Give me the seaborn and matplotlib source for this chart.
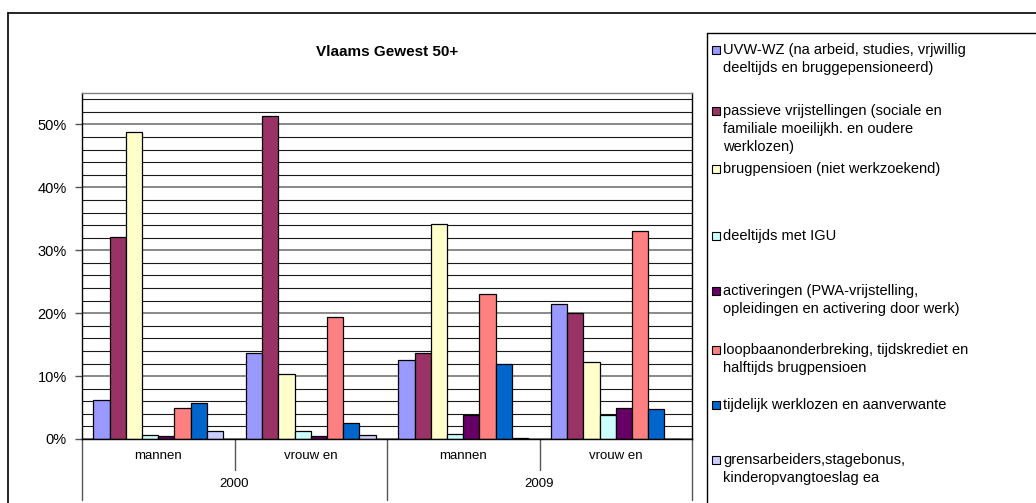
import numpy as np
import pandas as pd
import matplotlib
matplotlib.use("Agg")
import matplotlib.pyplot as plt
import matplotlib.transforms as mtransforms
from matplotlib.lines import Line2D
from matplotlib.patches import Rectangle
import seaborn as sns

# --- data (percent of 50+ group) ---
groups = ["2000 mannen", "2000 vrouwen", "2009 mannen", "2009 vrouwen"]
group_labels = ["mannen", "vrouw en", "mannen", "vrouw en"]
years = ["2000", "2009"]

categories = [
    "UVW-WZ (na arbeid, studies, vrjwillig\ndeeltijds en bruggepensioneerd)",
    "passieve vrijstellingen (sociale en\nfamiliale moeilijkh. en oudere\nwerklozen)",
    "brugpensioen (niet werkzoekend)",
    "deeltijds met IGU",
    "activeringen (PWA-vrijstelling,\nopleidingen en activering door werk)",
    "loopbaanonderbreking, tijdskrediet en\nhalftijds brugpensioen",
    "tijdelijk werklozen en aanverwante",
    "grensarbeiders,stagebonus,\nkinderopvangtoeslag ea",
]
uvw_wz = [6.2, 13.6, 12.5, 21.4]
passieve = [32.1, 51.3, 13.6, 20.0]
brugpensioen = [48.8, 10.4, 34.2, 12.2]
igu = [0.6, 1.3, 0.8, 3.8]
activeringen = [0.4, 0.5, 3.8, 4.9]
loopbaan = [5.0, 19.4, 23.0, 33.1]
tijdelijk = [5.7, 2.5, 11.9, 4.7]
grens = [1.2, 0.7, 0.2, 0.0]
series = [uvw_wz, passieve, brugpensioen, igu, activeringen, loopbaan, tijdelijk, grens]

colors = ["#9999FF", "#993366", "#FFFFCC", "#CCFFFF",
          "#660066", "#FF8080", "#0066CC", "#CCCCFF"]

df = pd.DataFrame({
    "groep": np.repeat([groups], len(categories), axis=0).ravel(),
    "categorie": np.repeat(categories, len(groups)),
    "waarde": np.concatenate(series),
})

sns.set_theme(style="white")
plt.rcParams['font.family'] = ['Liberation Sans', 'DejaVu Sans']
plt.rcParams['text.color'] = 'black'
plt.rcParams['ytick.color'] = 'black'

W, H = 1036, 503
fig = plt.figure(figsize=(W / 100, H / 100), dpi=100)
fig.patch.set_facecolor("white")

def fx(px):
    return px / W

def fy(py):
    return 1 - py / H

left, right, top, bottom = 82, 692, 93, 439
ax = fig.add_axes([fx(left), fy(bottom), fx(right - left), (bottom - top) / H])

sns.barplot(data=df, x="groep", y="waarde", hue="categorie", order=groups,
            hue_order=categories, palette=colors, width=0.85, gap=0,
            edgecolor="black", linewidth=0.9, saturation=1, ax=ax, legend=False)

ax.set_ylim(0, 55)
ax.set_xlim(-0.5, 3.5)
ax.set_yticks(np.arange(0, 51, 10))
ax.set_yticks(np.arange(0, 55, 2), minor=True)
ax.set_yticklabels([f"{v}%" for v in range(0, 51, 10)], fontsize=10.5)
ax.yaxis.grid(True, which="minor", color="#1a1a1a", linewidth=0.8)
ax.yaxis.grid(True, which="major", color="#808080", linewidth=1.3)
ax.set_axisbelow(True)
ax.tick_params(axis="y", which="major", length=5, width=1, color="#555555",
               labelcolor="black", left=True, pad=6)
ax.tick_params(axis="y", which="minor", length=0)
ax.tick_params(axis="x", length=0)
ax.set_xticks([])
ax.set_xlabel("")
ax.set_ylabel("")
for s in ["left", "bottom", "right", "top"]:
    ax.spines[s].set_color("black")
    ax.spines[s].set_linewidth(1.0)
ax.spines["top"].set_color("#808080")

# hierarchical category axis
trans = mtransforms.blended_transform_factory(ax.transData, ax.transAxes)
h = bottom - top
short_end = -(470 - bottom) / h
long_end = -(500 - bottom) / h
for xb in [0.5, 2.5]:
    ax.plot([xb, xb], [0, short_end], color="#555555", lw=1, transform=trans, clip_on=False)
for xb in [-0.5, 1.5, 3.5]:
    ax.plot([xb, xb], [0, long_end], color="#555555", lw=1, transform=trans, clip_on=False)
for i, lab in enumerate(group_labels):
    ax.text(i, -(456 - bottom) / h, lab, transform=trans, ha="center", va="center",
            fontsize=9.5, color="black")
for j, yr in enumerate(years):
    ax.text(0.5 + 2 * j, -(484 - bottom) / h, yr, transform=trans, ha="center", va="center",
            fontsize=9.5, color="black")

fig.text(fx(387), fy(52), "Vlaams Gewest 50+", ha="center", va="center",
         fontsize=11, fontweight="bold", color="black")

# outer chart frame and legend box
fig.add_artist(Line2D([fx(8), 1], [fy(13), fy(13)], color="black", lw=1.2))
fig.add_artist(Line2D([fx(8), fx(8)], [fy(13), 0], color="black", lw=1.2))
fig.add_artist(Line2D([fx(707), 1], [fy(33), fy(33)], color="black", lw=1.0))
fig.add_artist(Line2D([fx(707), fx(707)], [fy(33), 0], color="black", lw=1.0))

# legend entries
entry_y = [50, 111, 169, 236, 291, 350, 405, 460]
for cat, col, yy in zip(categories, colors, entry_y):
    fig.add_artist(Rectangle((fx(712), fy(yy + 4)), fx(8), 8 / H, facecolor=col,
                             edgecolor="black", linewidth=0.8))
    for k, line in enumerate(cat.split("\n")):
        fig.text(fx(723), fy(yy + 18 * k), line, ha="left", va="center",
                 fontsize=10.5, color="black")

fig.savefig("out.png", dpi=100)
